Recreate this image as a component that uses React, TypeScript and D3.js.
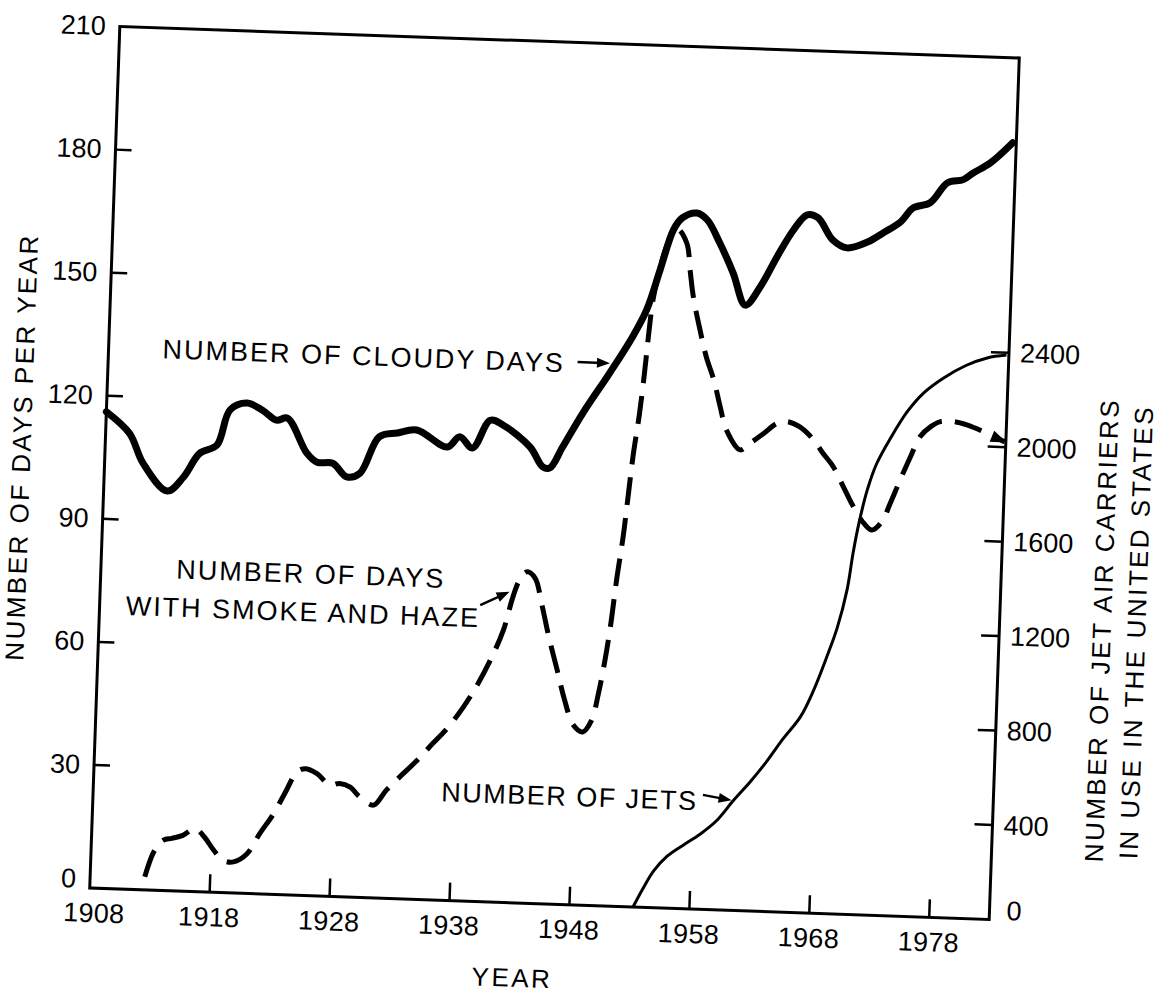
import React from 'react';
import * as d3 from 'd3';

// ---------- data ----------
const cloudyYears = [1908.0, 1910.0, 1911.2, 1913.3, 1914.6, 1915.9, 1917.3, 1918.3, 1919.7, 1921.0, 1922.2, 1923.1, 1924.8, 1925.7, 1927.0, 1928.2, 1929.3, 1930.8, 1932.3, 1933.9, 1936.5, 1937.5, 1938.6, 1940.0, 1941.1, 1943.4, 1944.5, 1945.1, 1946.1, 1947.7, 1949.8, 1951.6, 1952.7, 1953.7, 1954.7, 1955.4, 1956.6, 1957.5, 1958.6, 1959.8, 1960.9, 1962.1, 1963.4, 1964.7, 1965.8, 1966.7, 1968.0, 1969.2, 1970.9, 1972.2, 1973.6, 1974.6, 1976.0, 1977.4, 1978.7, 1979.5, 1980.9, 1982.7];
const cloudyDays = [116.1, 111.0, 103.9, 97.3, 100.8, 106.8, 108.9, 117.6, 119.4, 117.8, 115.5, 116.1, 107.8, 105.6, 105.5, 102.3, 103.3, 112.3, 113.4, 114.3, 110.4, 113.0, 110.4, 117.3, 116.2, 111.1, 106.4, 106.2, 111.4, 119.9, 129.8, 138.8, 145.5, 155.3, 165.2, 168.2, 169.5, 167.9, 162.4, 155.2, 147.5, 152.1, 159.5, 166.2, 170.0, 169.4, 164.1, 162.3, 163.9, 166.3, 169.1, 172.6, 174.0, 179.0, 179.9, 181.6, 184.2, 189.3];

const smokeYears = [1912.55, 1913.3, 1914.0, 1914.7, 1915.6, 1916.6, 1917.4, 1918.2, 1919.0, 1919.9, 1921.0, 1922.0, 1923.1, 1924.1, 1924.9, 1925.6, 1926.6, 1927.7, 1928.5, 1929.4, 1930.2, 1931.4, 1932.4, 1933.5, 1934.9, 1935.9, 1937.3, 1938.6, 1939.6, 1940.7, 1941.7, 1942.4, 1942.9, 1943.5, 1944.2, 1944.8, 1945.5, 1946.3, 1947.0, 1947.8, 1948.6, 1949.3, 1949.8, 1950.25, 1950.6, 1951.0, 1951.4, 1951.7, 1952.0, 1952.4, 1952.7, 1952.95, 1953.2, 1953.7, 1954.3, 1955.0, 1955.85, 1956.2, 1956.55, 1957.2, 1957.8, 1958.5, 1959.1, 1959.7, 1960.9, 1961.7, 1962.8, 1963.9, 1964.7, 1965.8, 1967.0, 1967.8, 1968.7, 1969.6, 1970.5, 1971.4, 1972.1, 1972.9, 1973.55, 1974.3, 1975.1, 1975.85, 1976.7, 1977.5, 1978.6, 1979.7, 1981.1, 1982.25, 1982.9];
const smokeDays = [3.2, 9.8, 12.3, 12.8, 13.6, 15.4, 13.4, 10.3, 7.9, 7.6, 9.7, 14.7, 19.7, 25.5, 30.0, 30.9, 29.8, 27.1, 27.6, 26.8, 24.5, 22.6, 26.3, 29.7, 33.9, 37.3, 41.9, 47.3, 52.3, 58.9, 66.3, 74.5, 78.6, 80.7, 79.2, 73.2, 65.1, 57.0, 49.8, 43.8, 42.2, 45.1, 51.7, 59.9, 68, 80, 90, 100, 110, 120, 130, 140, 148, 156, 162, 165.5, 162.1, 155.6, 149.1, 141.1, 134.6, 129.0, 122.6, 116.9, 112.2, 113.9, 116.4, 119.0, 119.5, 118.3, 115.2, 112.1, 108.9, 104.1, 99.3, 95.4, 93.8, 95.9, 100.5, 106.2, 112.0, 117.0, 119.5, 120.8, 120.9, 120.2, 118.7, 117.2, 116.4];

const jetYears = [1953.3, 1954.1, 1954.9, 1956.0, 1957.3, 1958.7, 1960.0, 1961.35, 1962.7, 1964.0, 1965.3, 1966.7, 1967.7, 1968.7, 1969.5, 1970.2, 1970.6, 1971.0, 1971.6, 1972.3, 1973.4, 1974.7, 1976.0, 1977.6, 1979.5, 1981.2, 1982.8];
const jetCarriers = [0, 82, 155, 220, 269, 319, 377, 465, 547, 635, 733, 830, 942, 1085, 1212, 1372, 1530, 1657, 1799, 1911, 2023, 2136, 2217, 2283, 2341, 2375, 2390];

const yearTicks = [1918, 1928, 1938, 1948, 1958, 1968, 1978];
const yearLabels = [1908, 1918, 1928, 1938, 1948, 1958, 1968, 1978];
const dayTicks = [30, 60, 90, 120, 150, 180];
const dayLabels = [0, 30, 60, 90, 120, 150, 180, 210];
const jetTicks = [400, 800, 1200, 1600, 2000, 2400];
const jetLabels = [0, 400, 800, 1200, 1600, 2000, 2400];

// ---------- layout ----------
const W = 1166, H = 993;
const L = 104.5, R = 1004.5, T = 42, B = 904;
const CX = 554.5, CY = 473, ANGLE = 2;
const FONT = '"Liberation Sans", Arial, Helvetica, sans-serif';

function arrowHead(x1: number, y1: number, x2: number, y2: number, len = 13, half = 5) {
  const a = Math.atan2(y2 - y1, x2 - x1);
  const bx = x2 - len * Math.cos(a), by = y2 - len * Math.sin(a);
  const px = -Math.sin(a) * half, py = Math.cos(a) * half;
  return `M${x2},${y2}L${bx + px},${by + py}L${bx - px},${by - py}Z`;
}

function Arrow({ x1, y1, x2, y2 }: { x1: number; y1: number; x2: number; y2: number }) {
  const a = Math.atan2(y2 - y1, x2 - x1);
  const ex = x2 - 8 * Math.cos(a), ey = y2 - 8 * Math.sin(a);
  return (
    <g>
      <line x1={x1} y1={y1} x2={ex} y2={ey} stroke="#000" strokeWidth={2.5} />
      <path d={arrowHead(x1, y1, x2, y2)} fill="#000" />
    </g>
  );
}

export default function App() {
  const x = d3.scaleLinear().domain([1908, 1983]).range([L, R]);
  const yL = d3.scaleLinear().domain([0, 210]).range([B, T]);
  const yR = d3.scaleLinear().domain([0, 2400]).range([B, B - 567]);

  const curve = d3.curveCatmullRom.alpha(0.5);
  const cloudyLine = d3.line<number>().x((_, i) => x(cloudyYears[i])).y((d) => yL(d)).curve(curve);
  const smokeLine = d3.line<number>().x((_, i) => x(smokeYears[i])).y((d) => yL(d)).curve(curve);
  const jetLine = d3.line<number>().x((_, i) => x(jetYears[i])).y((d) => yR(d)).curve(curve);

  const nS = smokeYears.length;
  const sx1 = x(smokeYears[nS - 2]), sy1 = yL(smokeDays[nS - 2]);
  const sx2 = x(smokeYears[nS - 1]) + 2, sy2 = yL(smokeDays[nS - 1]) + 0.5;

  const textStyle = { fontFamily: FONT, fill: '#000' } as const;

  return (
    <div style={{ position: 'absolute', left: 0, top: 0 }}>
      <svg width={W} height={H} viewBox={`0 0 ${W} ${H}`} style={{ display: 'block', background: '#fff' }}>
        <rect x={0} y={0} width={W} height={H} fill="#fff" />
        <g transform={`rotate(${ANGLE}, ${CX}, ${CY})`}>
          {/* frame */}
          <rect x={L} y={T} width={R - L} height={B - T} fill="none" stroke="#000" strokeWidth={3} />
          {/* left ticks */}
          {dayTicks.map((v) => (
            <line key={'lt' + v} x1={L} x2={L + 16} y1={yL(v)} y2={yL(v)} stroke="#000" strokeWidth={2.5} />
          ))}
          {/* bottom ticks */}
          {yearTicks.map((v) => (
            <line key={'bt' + v} x1={x(v)} x2={x(v)} y1={B} y2={B - 18} stroke="#000" strokeWidth={2.5} />
          ))}
          {/* right ticks */}
          {jetTicks.map((v) => (
            <line key={'rt' + v} x1={R} x2={R - 18} y1={yR(v)} y2={yR(v)} stroke="#000" strokeWidth={2.5} />
          ))}
          {/* left labels */}
          {dayLabels.map((v) => (
            <text key={'ll' + v} x={L - 14} y={yL(v) + (v === 0 ? 0 : 9)} textAnchor="end" fontSize={27} style={textStyle}>
              {v}
            </text>
          ))}
          {/* bottom labels */}
          {yearLabels.map((v) => (
            <text key={'bl' + v} x={x(v) + (v === 1908 ? 5 : 0)} y={B + 34} textAnchor="middle" fontSize={27} letterSpacing={0.3} style={textStyle}>
              {v}
            </text>
          ))}
          {/* right labels */}
          {jetLabels.map((v) => (
            <text key={'rl' + v} x={R + (v === 0 ? 17 : 11)} y={yR(v) + (v === 0 ? 0 : 9)} textAnchor="start" fontSize={27} style={textStyle}>
              {v}
            </text>
          ))}

          {/* series */}
          <path d={jetLine(jetCarriers) || ''} fill="none" stroke="#000" strokeWidth={3} />
          <path d={smokeLine(smokeDays) || ''} fill="none" stroke="#000" strokeWidth={5} strokeDasharray="28 13" />
          <path d={arrowHead(sx1, sy1, sx2, sy2, 16, 6)} fill="#000" />
          <path d={cloudyLine(cloudyDays) || ''} fill="none" stroke="#000" strokeWidth={7} strokeLinejoin="round" strokeLinecap="round" />

          {/* annotations */}
          <text x={x(1912.5)} y={yL(129.6)} fontSize={27} letterSpacing={2} style={textStyle}>NUMBER OF CLOUDY DAYS</text>
          <Arrow x1={x(1947.1)} y1={yL(132.2)} x2={x(1949.8)} y2={yL(132.2)} />

          <text x={x(1925.5)} y={yL(76.1)} fontSize={27} letterSpacing={2} textAnchor="middle" style={textStyle}>NUMBER OF DAYS</text>
          <text x={x(1924.95)} y={yL(66.8)} fontSize={27} letterSpacing={2} textAnchor="middle" style={textStyle}>WITH SMOKE AND HAZE</text>
          <Arrow x1={x(1939.7)} y1={yL(72.2)} x2={x(1942.1)} y2={yL(75.7)} />

          <text x={x(1937.0)} y={yL(24.1)} fontSize={27} letterSpacing={1.5} style={textStyle}>NUMBER OF JETS</text>
          <Arrow x1={x(1958.8)} y1={yL(27.9)} x2={x(1961.2)} y2={yL(26.8)} />

          {/* axis titles */}
          <text x={529.7} y={988} fontSize={26} letterSpacing={2.5} textAnchor="middle" style={textStyle}>YEAR</text>
          <text transform={`translate(21.1, 465.6) rotate(-90)`} fontSize={26} letterSpacing={2.5} textAnchor="middle" dominantBaseline="central" style={textStyle}>NUMBER OF DAYS PER YEAR</text>
          <text transform={`translate(1107, 610.9) rotate(-90)`} fontSize={26} letterSpacing={2.5} textAnchor="middle" dominantBaseline="central" style={textStyle}>NUMBER OF JET AIR CARRIERS</text>
          <text transform={`translate(1141.5, 611.7) rotate(-90)`} fontSize={26} letterSpacing={2.5} textAnchor="middle" dominantBaseline="central" style={textStyle}>IN USE IN THE UNITED STATES</text>
        </g>
      </svg>
    </div>
  );
}
